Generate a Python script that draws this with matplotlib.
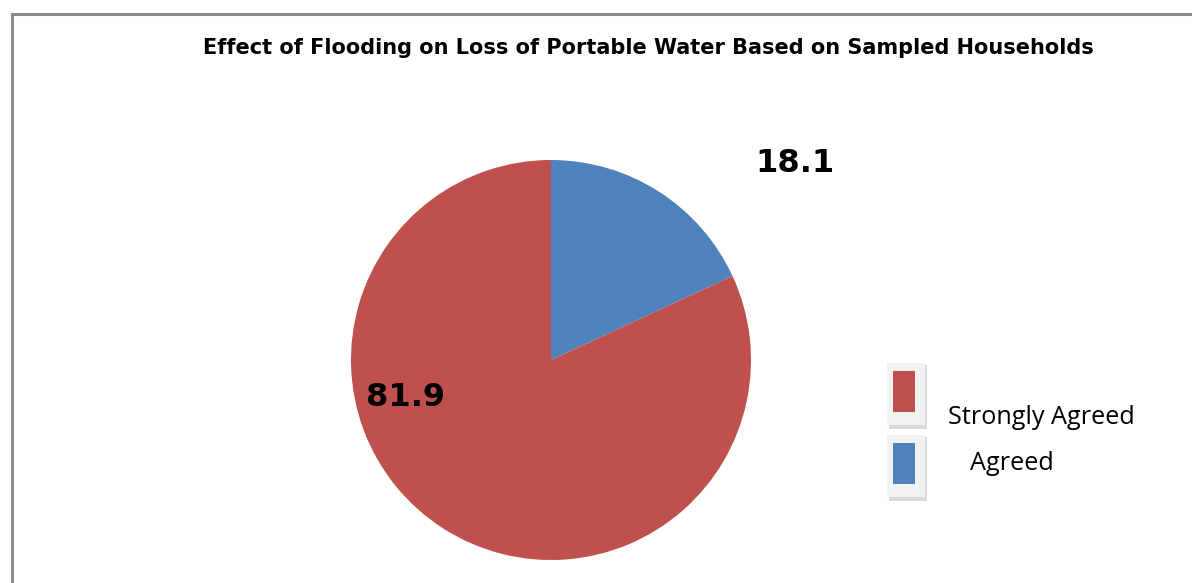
import matplotlib.pyplot as plt
from matplotlib.patches import Rectangle
from matplotlib.lines import Line2D

categories = ['Agreed', 'Strongly Agreed']
values = [18.1, 81.9]
colors = ['#4F81BD', '#C0504D']
legend_order = ['Strongly Agreed', 'Agreed']

W, H = 1192, 583
fig = plt.figure(figsize=(W / 100, H / 100), dpi=100)

def fx(px):
    return px / W

def fy(py):
    return 1 - py / H

# chart border (only top and left edges visible)
fig.add_artist(Line2D([fx(12), 1], [fy(14), fy(14)], color='#8c8c8c', lw=2.2))
fig.add_artist(Line2D([fx(12), fx(12)], [fy(14), 0], color='#8c8c8c', lw=2.2))

cx, cy, r = 551, 360, 200
ax = fig.add_axes([fx(cx - r), fy(cy + r), 2 * r / W, 2 * r / H])
ax.pie(values, colors=colors, startangle=90, counterclock=False,
       wedgeprops=dict(linewidth=0))
ax.set_xlim(-1, 1)
ax.set_ylim(-1, 1)
ax.set_aspect('auto')
ax.axis('off')

label_pos = {'Agreed': (1.22, 0.985), 'Strongly Agreed': (-0.725, -0.185)}
for cat, v in zip(categories, values):
    x, y = label_pos[cat]
    ax.text(x, y, f'{v}', ha='center', va='center', fontsize=23,
            fontweight='bold', family='DejaVu Sans')

fig.text(fx(648), fy(48), 'Effect of Flooding on Loss of Portable Water Based on Sampled Households',
         ha='center', va='center', fontsize=15, fontweight='bold', family='DejaVu Sans')

# legend
leg_boxes = {'Strongly Agreed': (887, 363), 'Agreed': (887, 435)}
leg_text = {'Strongly Agreed': (948, 418), 'Agreed': (970, 463)}
col_map = dict(zip(categories, colors))
for cat in legend_order:
    bx, by = leg_boxes[cat]
    fig.add_artist(Rectangle((fx(bx + 2), fy(by + 66)), 38 / W, 64 / H,
                             facecolor='#d9d9d9', edgecolor='none'))
    fig.add_artist(Rectangle((fx(bx), fy(by + 62)), 38 / W, 62 / H,
                             facecolor='#f2f2f2', edgecolor='none'))
    fig.add_artist(Rectangle((fx(bx + 6), fy(by + 49)), 22 / W, 41 / H,
                             facecolor=col_map[cat], edgecolor='none'))
    tx, ty = leg_text[cat]
    fig.text(fx(tx), fy(ty), cat, ha='left', va='center', fontsize=18.2,
             family='Open Sans')

fig.savefig('out.png', dpi=100)
